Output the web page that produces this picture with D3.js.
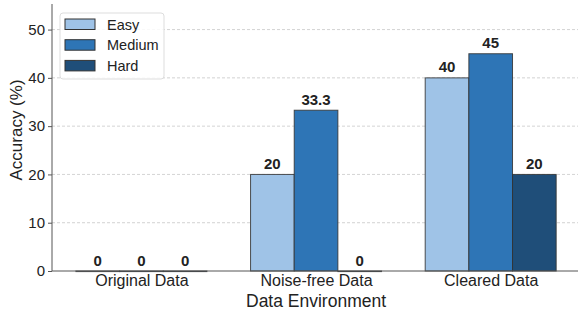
<!doctype html>
<html>
<head>
<meta charset="utf-8">
<style>
  body { margin: 0; background: #fff; }
  text { font-family: "Liberation Sans", Arial, sans-serif; fill: #222; }
</style>
</head>
<body>
<div id="chart"></div>
<script src="https://d3js.org/d3.v7.min.js"></script>
<script>
// data
var categories = ["Original Data", "Noise-free Data", "Cleared Data"];
var levels = ["Easy", "Medium", "Hard"];
var easy = [0, 20, 40];
var medium = [0, 33.3, 45];
var hard = [0, 0, 20];
var yTicks = [0, 10, 20, 30, 40, 50];
var colors = ["#9fc3e7", "#2e75b6", "#1f4e79"];

var W = 578, H = 313;
var margin = {top: 4, right: 0, bottom: 42, left: 52};
var width = W - margin.left - margin.right,
    height = H - margin.top - margin.bottom;

var svg = d3.select("#chart").append("svg")
    .attr("width", W).attr("height", H);
var g = svg.append("g")
    .attr("transform", "translate(" + margin.left + "," + margin.top + ")");

// continuous x like matplotlib: centers at 0,1,2
var x = d3.scaleLinear().domain([-0.512, 2.5]).range([0, width]);
var y = d3.scaleLinear().domain([0, 55.3]).range([height, 0]);
var bw = 0.25;

// grid
g.append("g").selectAll("line").data(yTicks.slice(1)).enter().append("line")
    .attr("x1", 0).attr("x2", width)
    .attr("y1", function (d) { return y(d); }).attr("y2", function (d) { return y(d); })
    .attr("stroke", "#c8c8c8").attr("stroke-width", 0.8)
    .attr("stroke-dasharray", "3,2");

var series = [easy, medium, hard];
series.forEach(function (vals, si) {
    var grp = g.append("g");
    grp.selectAll("rect").data(vals).enter().append("rect")
        .attr("x", function (d, i) { return x(i + (si - 1) * bw - bw / 2); })
        .attr("width", function () { return x(bw) - x(0); })
        .attr("y", function (d) { return y(d); })
        .attr("height", function (d) { return Math.max(height - y(d), 0.6); })
        .attr("fill", colors[si])
        .attr("stroke", "#333").attr("stroke-opacity", 0.85).attr("stroke-width", 1);
    grp.selectAll("text").data(vals).enter().append("text")
        .attr("x", function (d, i) { return x(i + (si - 1) * bw); })
        .attr("y", function (d) { return y(d) - 5.5; })
        .attr("text-anchor", "middle")
        .attr("font-size", 15).attr("font-weight", "bold")
        .text(function (d) { return d; });
});

// axes
var yAxis = g.append("g").call(d3.axisLeft(y).tickValues(yTicks).tickSize(4).tickPadding(3));
yAxis.selectAll("text").attr("font-size", 15).style("fill", "#222");
yAxis.select(".domain").attr("stroke", "#555").attr("d", "M0," + height + "V0");
yAxis.selectAll(".tick line").attr("stroke", "#555");

var xAxis = g.append("g").attr("transform", "translate(0," + height + ")")
    .call(d3.axisBottom(x).tickValues([0, 1, 2]).tickSize(0).tickPadding(4)
        .tickFormat(function (d) { return categories[d]; }));
xAxis.selectAll("text").attr("font-size", 16).style("fill", "#222");
xAxis.select(".domain").attr("stroke", "#555").attr("d", "M0,0H" + width);

// labels
svg.append("text")
    .attr("transform", "translate(22,130) rotate(-90)")
    .attr("text-anchor", "middle").attr("font-size", 17)
    .text("Accuracy (%)");
svg.append("text")
    .attr("x", margin.left + x(1)).attr("y", 307)
    .attr("text-anchor", "middle").attr("font-size", 17.5)
    .text("Data Environment");

// legend
var leg = svg.append("g").attr("transform", "translate(60,13)");
leg.append("rect").attr("width", 104).attr("height", 66).attr("rx", 3)
    .attr("fill", "#fff").attr("fill-opacity", 0.85)
    .attr("stroke", "#ddd");
levels.forEach(function (name, i) {
    leg.append("rect").attr("x", 5).attr("y", 6 + i * 20.7)
        .attr("width", 30).attr("height", 10.5)
        .attr("fill", colors[i]).attr("stroke", "#333").attr("stroke-width", 1);
    leg.append("text").attr("x", 47).attr("y", 16.5 + i * 20.7)
        .attr("font-size", 14.5).text(name);
});
</script>
</body>
</html>
